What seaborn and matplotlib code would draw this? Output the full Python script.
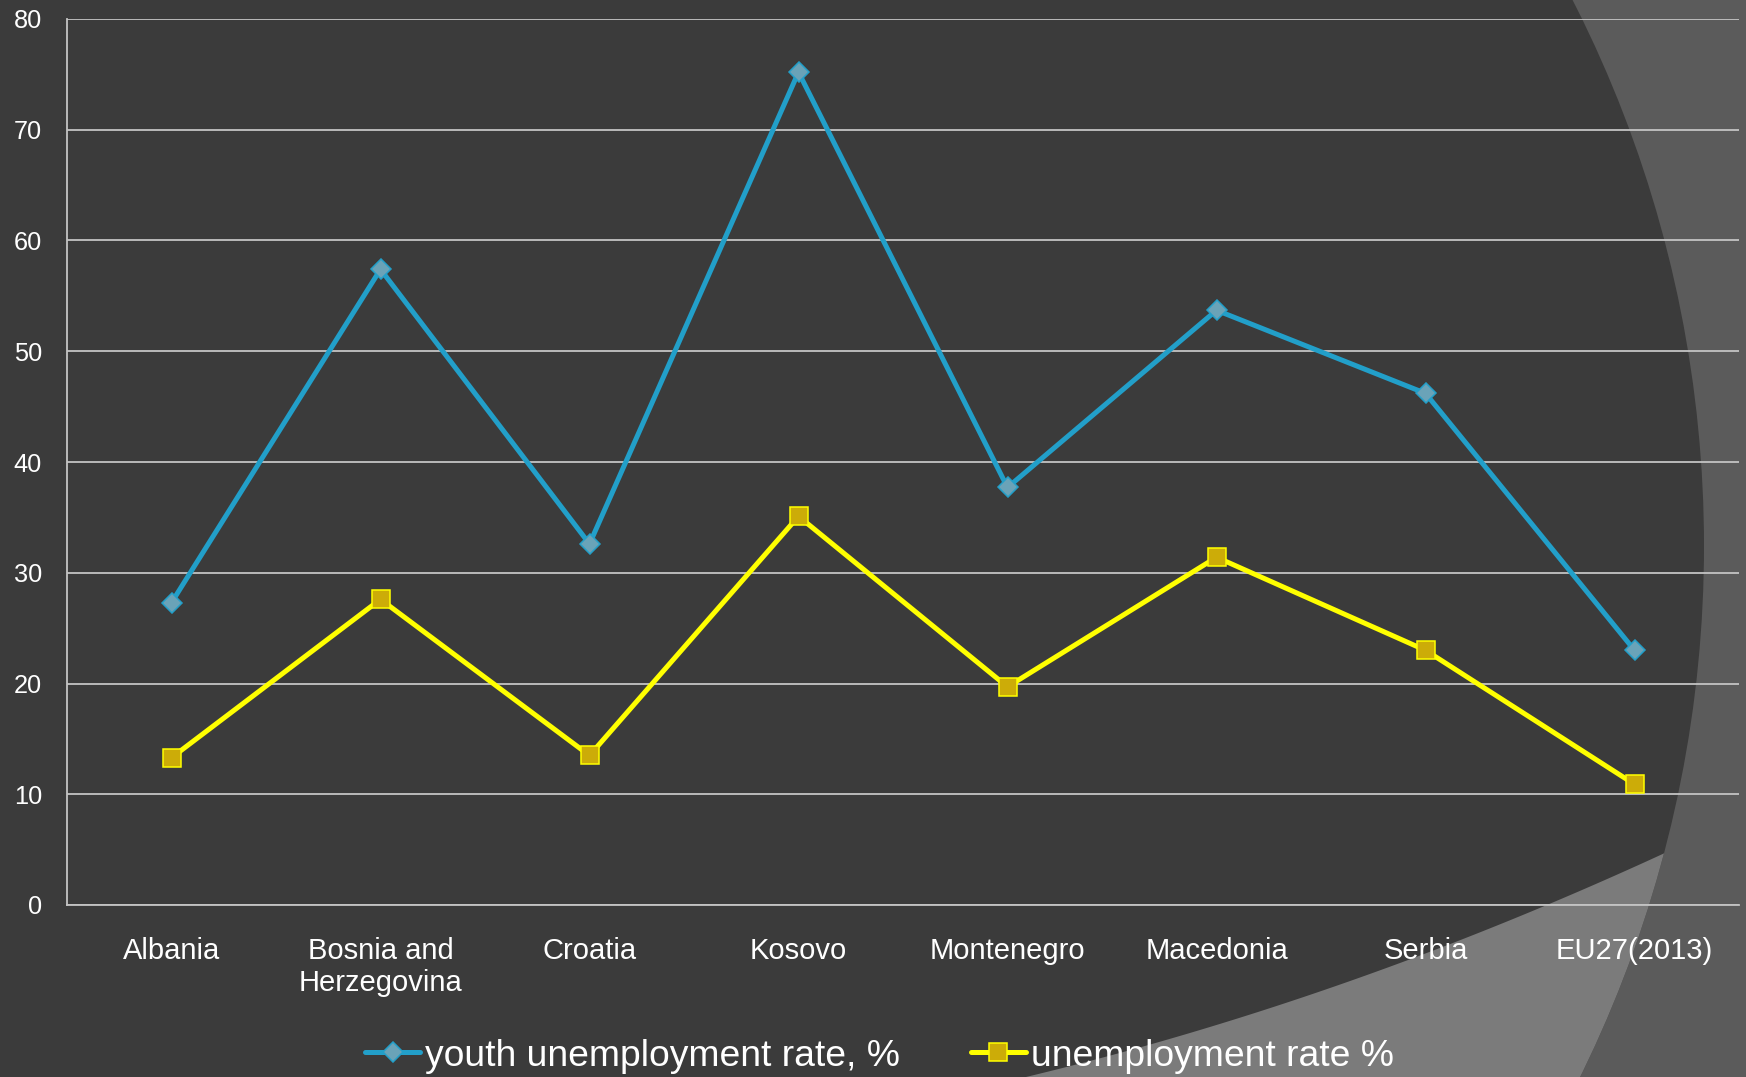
import numpy as np
import pandas as pd
import matplotlib
matplotlib.use("Agg")
import matplotlib.pyplot as plt
from matplotlib.patches import Circle, Polygon
import seaborn as sns

# ---- data -------------------------------------------------------------
countries = ["Albania", "Bosnia and\nHerzegovina", "Croatia", "Kosovo",
             "Montenegro", "Macedonia", "Serbia", "EU27(2013)"]
youth_rate = [27.3, 57.4, 32.6, 75.2, 37.7, 53.7, 46.2, 23.0]
total_rate = [13.3, 27.6, 13.5, 35.1, 19.7, 31.4, 23.0, 10.9]
series_labels = ["youth unemployment rate, %", "unemployment rate %"]
y_ticks = [0, 10, 20, 30, 40, 50, 60, 70, 80]

# ---- style ------------------------------------------------------------
sns.set_style("white")
plt.rcParams["font.family"] = ["Liberation Sans", "DejaVu Sans"]

W, H, DPI = 1746, 1077, 100
BG_DARK = "#3b3b3b"
BG_MID = "#5b5b5b"
BG_LIGHT = "#7b7b7b"
GRID = "#c4c4c4"

fig = plt.figure(figsize=(W / DPI, H / DPI), dpi=DPI, facecolor=BG_MID)

# slide-theme backdrop: large dark disc with a lighter sweep at lower right
bg = fig.add_axes([0, 0, 1, 1], zorder=0)
bg.set_xlim(0, W)
bg.set_ylim(H, 0)
bg.axis("off")
disc = Circle((504, 546), 1200, facecolor=BG_DARK, edgecolor="none")
bg.add_patch(disc)
sx = np.array([1026.0, 1400.0, 1667.0])
sy = np.array([1077.0, 963.0, 852.0])
coef = np.polyfit(sx, sy, 2)
cx = np.linspace(900, W + 20, 120)
cy = np.polyval(coef, cx)
sweep_pts = np.column_stack([np.r_[cx, W + 20, 900], np.r_[cy, H + 20, H + 20]])
sweep = Polygon(sweep_pts, closed=True, facecolor=BG_LIGHT, edgecolor="none")
bg.add_patch(sweep)
sweep.set_clip_path(disc)

# ---- chart ------------------------------------------------------------
ax = fig.add_axes([67 / W, 1 - 905 / H, (1739 - 67) / W, (905 - 19) / H], zorder=1)
ax.set_facecolor("none")

df = pd.DataFrame({"country": countries, "youth": youth_rate, "total": total_rate})

sns.lineplot(data=df, x="country", y="youth", ax=ax, sort=False, legend=False,
             color="#229fc9", linewidth=3.6, marker="D", markersize=9.8,
             markerfacecolor="#6aa3b8", markeredgecolor="#229fc9",
             markeredgewidth=1.1, zorder=3)
sns.lineplot(data=df, x="country", y="total", ax=ax, sort=False, legend=False,
             color="#ffff00", linewidth=3.6, marker="s", markersize=13.5,
             markerfacecolor="#ccac08", markeredgecolor="#ffff00",
             markeredgewidth=1.1, zorder=4)

ax.set_xlim(-0.5, len(countries) - 0.5)
ax.set_ylim(0, 80)
ax.set_yticks(y_ticks)
ax.set_xlabel("")
ax.set_ylabel("")

ax.grid(axis="y", color=GRID, linewidth=1.3)
ax.grid(axis="x", visible=False)
ax.set_axisbelow(True)
for side in ("top", "right"):
    ax.spines[side].set_visible(False)
for side in ("left", "bottom"):
    ax.spines[side].set_color(GRID)
    ax.spines[side].set_linewidth(1.3)

ax.tick_params(axis="y", length=0, pad=18, labelsize=18.3, labelcolor="white")
ax.tick_params(axis="x", length=0, pad=23, labelsize=21, labelcolor="white")
for lbl in ax.get_xticklabels():
    lbl.set_linespacing(1.18)

# ---- legend -----------------------------------------------------------
handles = ax.lines[:2]
fig.legend(handles, series_labels, loc="center",
           bbox_to_anchor=(879.5 / W, 1 - 1056 / H), ncol=2, frameon=False,
           fontsize=26.8, labelcolor="white", handlelength=1.48,
           handletextpad=0.13, columnspacing=1.9, borderpad=0.1)

fig.savefig("out.png", dpi=DPI, facecolor=fig.get_facecolor())
